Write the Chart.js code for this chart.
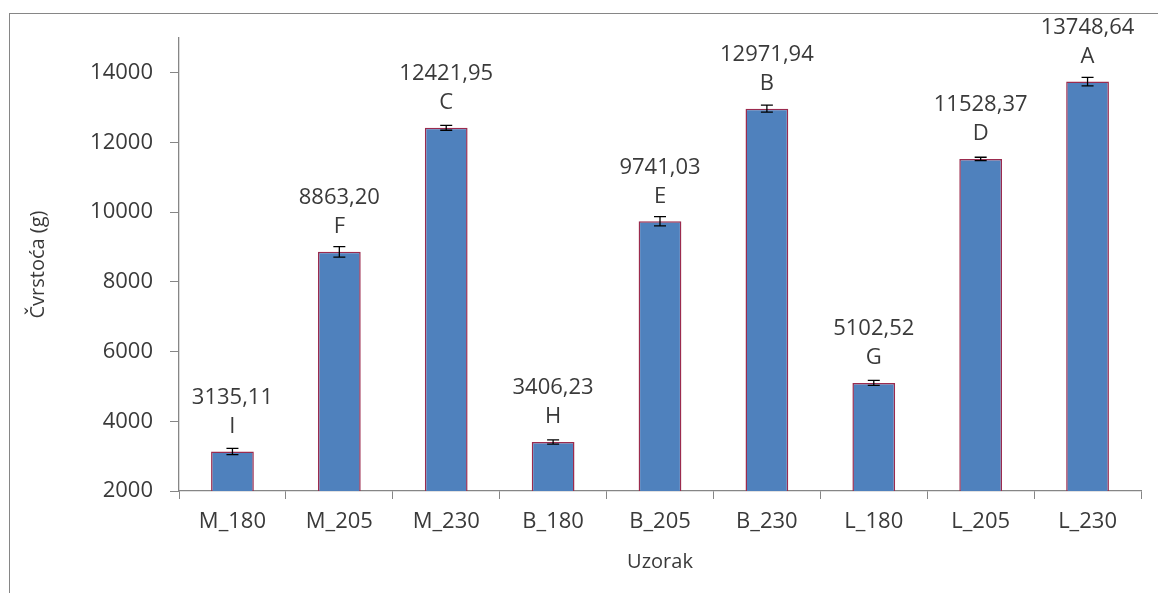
<!DOCTYPE html>
<html>
<head>
<meta charset="utf-8">
<script src="https://cdn.jsdelivr.net/npm/chart.js@4/dist/chart.umd.min.js"></script>
<style>
  html, body { margin: 0; padding: 0; background: #fff; }
</style>
</head>
<body>
<canvas id="chart" width="1158" height="593"></canvas>
<script>
var categories = ['M_180', 'M_205', 'M_230', 'B_180', 'B_205', 'B_230', 'L_180', 'L_205', 'L_230'];
var values = [3135.11, 8863.20, 12421.95, 3406.23, 9741.03, 12971.94, 5102.52, 11528.37, 13748.64];
var errors = [90, 150, 70, 60, 130, 100, 70, 50, 120];
var letters = ['I', 'F', 'C', 'H', 'E', 'B', 'G', 'D', 'A'];
var yTicks = [2000, 4000, 6000, 8000, 10000, 12000, 14000];

var textColor = '#3a3a3a';
var axisColor = '#868686';
var fontFamily = '"Open Sans", sans-serif';

function fmt(v) {
    return v.toFixed(2).replace('.', ',');
}

// outer frame of the chart (only left and top edge are visible)
var framePlugin = {
    id: 'frame',
    beforeDraw: function(chart) {
        var ctx = chart.ctx;
        ctx.save();
        ctx.fillStyle = '#fff';
        ctx.fillRect(0, 0, chart.width, chart.height);
        ctx.strokeStyle = axisColor;
        ctx.lineWidth = 1;
        ctx.strokeRect(9.5, 13.5, 3000, 3000);
        ctx.restore();
    }
};

// error bars plus value / letter labels above each bar
var labelPlugin = {
    id: 'barLabels',
    afterDatasetsDraw: function(chart) {
        var ctx = chart.ctx;
        var yScale = chart.scales.y;
        var meta = chart.getDatasetMeta(0);
        ctx.save();
        meta.data.forEach(function(bar, i) {
            var x = bar.x;
            var yHi = yScale.getPixelForValue(values[i] + errors[i]);
            var yLo = yScale.getPixelForValue(values[i] - errors[i]);
            ctx.strokeStyle = '#000';
            ctx.lineWidth = 1.3;
            ctx.beginPath();
            ctx.moveTo(x, yHi); ctx.lineTo(x, yLo);
            ctx.moveTo(x - 6, yHi); ctx.lineTo(x + 6, yHi);
            ctx.moveTo(x - 6, yLo); ctx.lineTo(x + 6, yLo);
            ctx.stroke();

            ctx.fillStyle = textColor;
            ctx.font = '22px ' + fontFamily;
            ctx.textAlign = 'center';
            ctx.textBaseline = 'middle';
            ctx.fillText(letters[i], x, bar.y - 25);
            ctx.fillText(fmt(values[i]), x, bar.y - 54);
        });
        ctx.restore();
    }
};

var ctx = document.getElementById('chart').getContext('2d');
new Chart(ctx, {
    type: 'bar',
    data: {
        labels: categories,
        datasets: [{
            data: values,
            backgroundColor: '#4F81BD',
            borderColor: '#9B2B4E',
            borderWidth: 1.5,
            barPercentage: 0.4,
            categoryPercentage: 1.0
        }]
    },
    options: {
        responsive: false,
        animation: false,
        layout: { padding: { top: 38, right: 17, left: 0, bottom: 0 } },
        plugins: {
            legend: { display: false },
            tooltip: { enabled: false }
        },
        scales: {
            x: {
                grid: {
                    offset: true,
                    drawOnChartArea: false,
                    tickLength: 8,
                    tickColor: axisColor
                },
                border: { color: axisColor, width: 1.3 },
                ticks: {
                    color: textColor,
                    font: { family: fontFamily, size: 22 },
                    padding: 10,
                    maxRotation: 0
                },
                title: {
                    display: true,
                    text: 'Uzorak',
                    color: textColor,
                    font: { family: fontFamily, size: 20 },
                    padding: { top: 0, bottom: 19 }
                },
                afterFit: function(scale) { scale.height = 102; }
            },
            y: {
                min: 2000,
                max: 15000,
                afterBuildTicks: function(scale) {
                    scale.ticks = yTicks.map(function(v) { return { value: v }; });
                },
                grid: {
                    drawOnChartArea: false,
                    tickLength: 9,
                    tickColor: axisColor
                },
                border: { color: axisColor, width: 1.3 },
                ticks: {
                    color: textColor,
                    font: { family: fontFamily, size: 22 },
                    padding: 17,
                    callback: function(v) { return String(v); }
                },
                title: {
                    display: true,
                    text: 'Čvrstoća (g)',
                    color: textColor,
                    font: { family: fontFamily, size: 20 },
                    padding: { top: 26, bottom: 0 }
                },
                afterFit: function(scale) { scale.width = 179; }
            }
        }
    },
    plugins: [framePlugin, labelPlugin]
});
</script>
</body>
</html>
